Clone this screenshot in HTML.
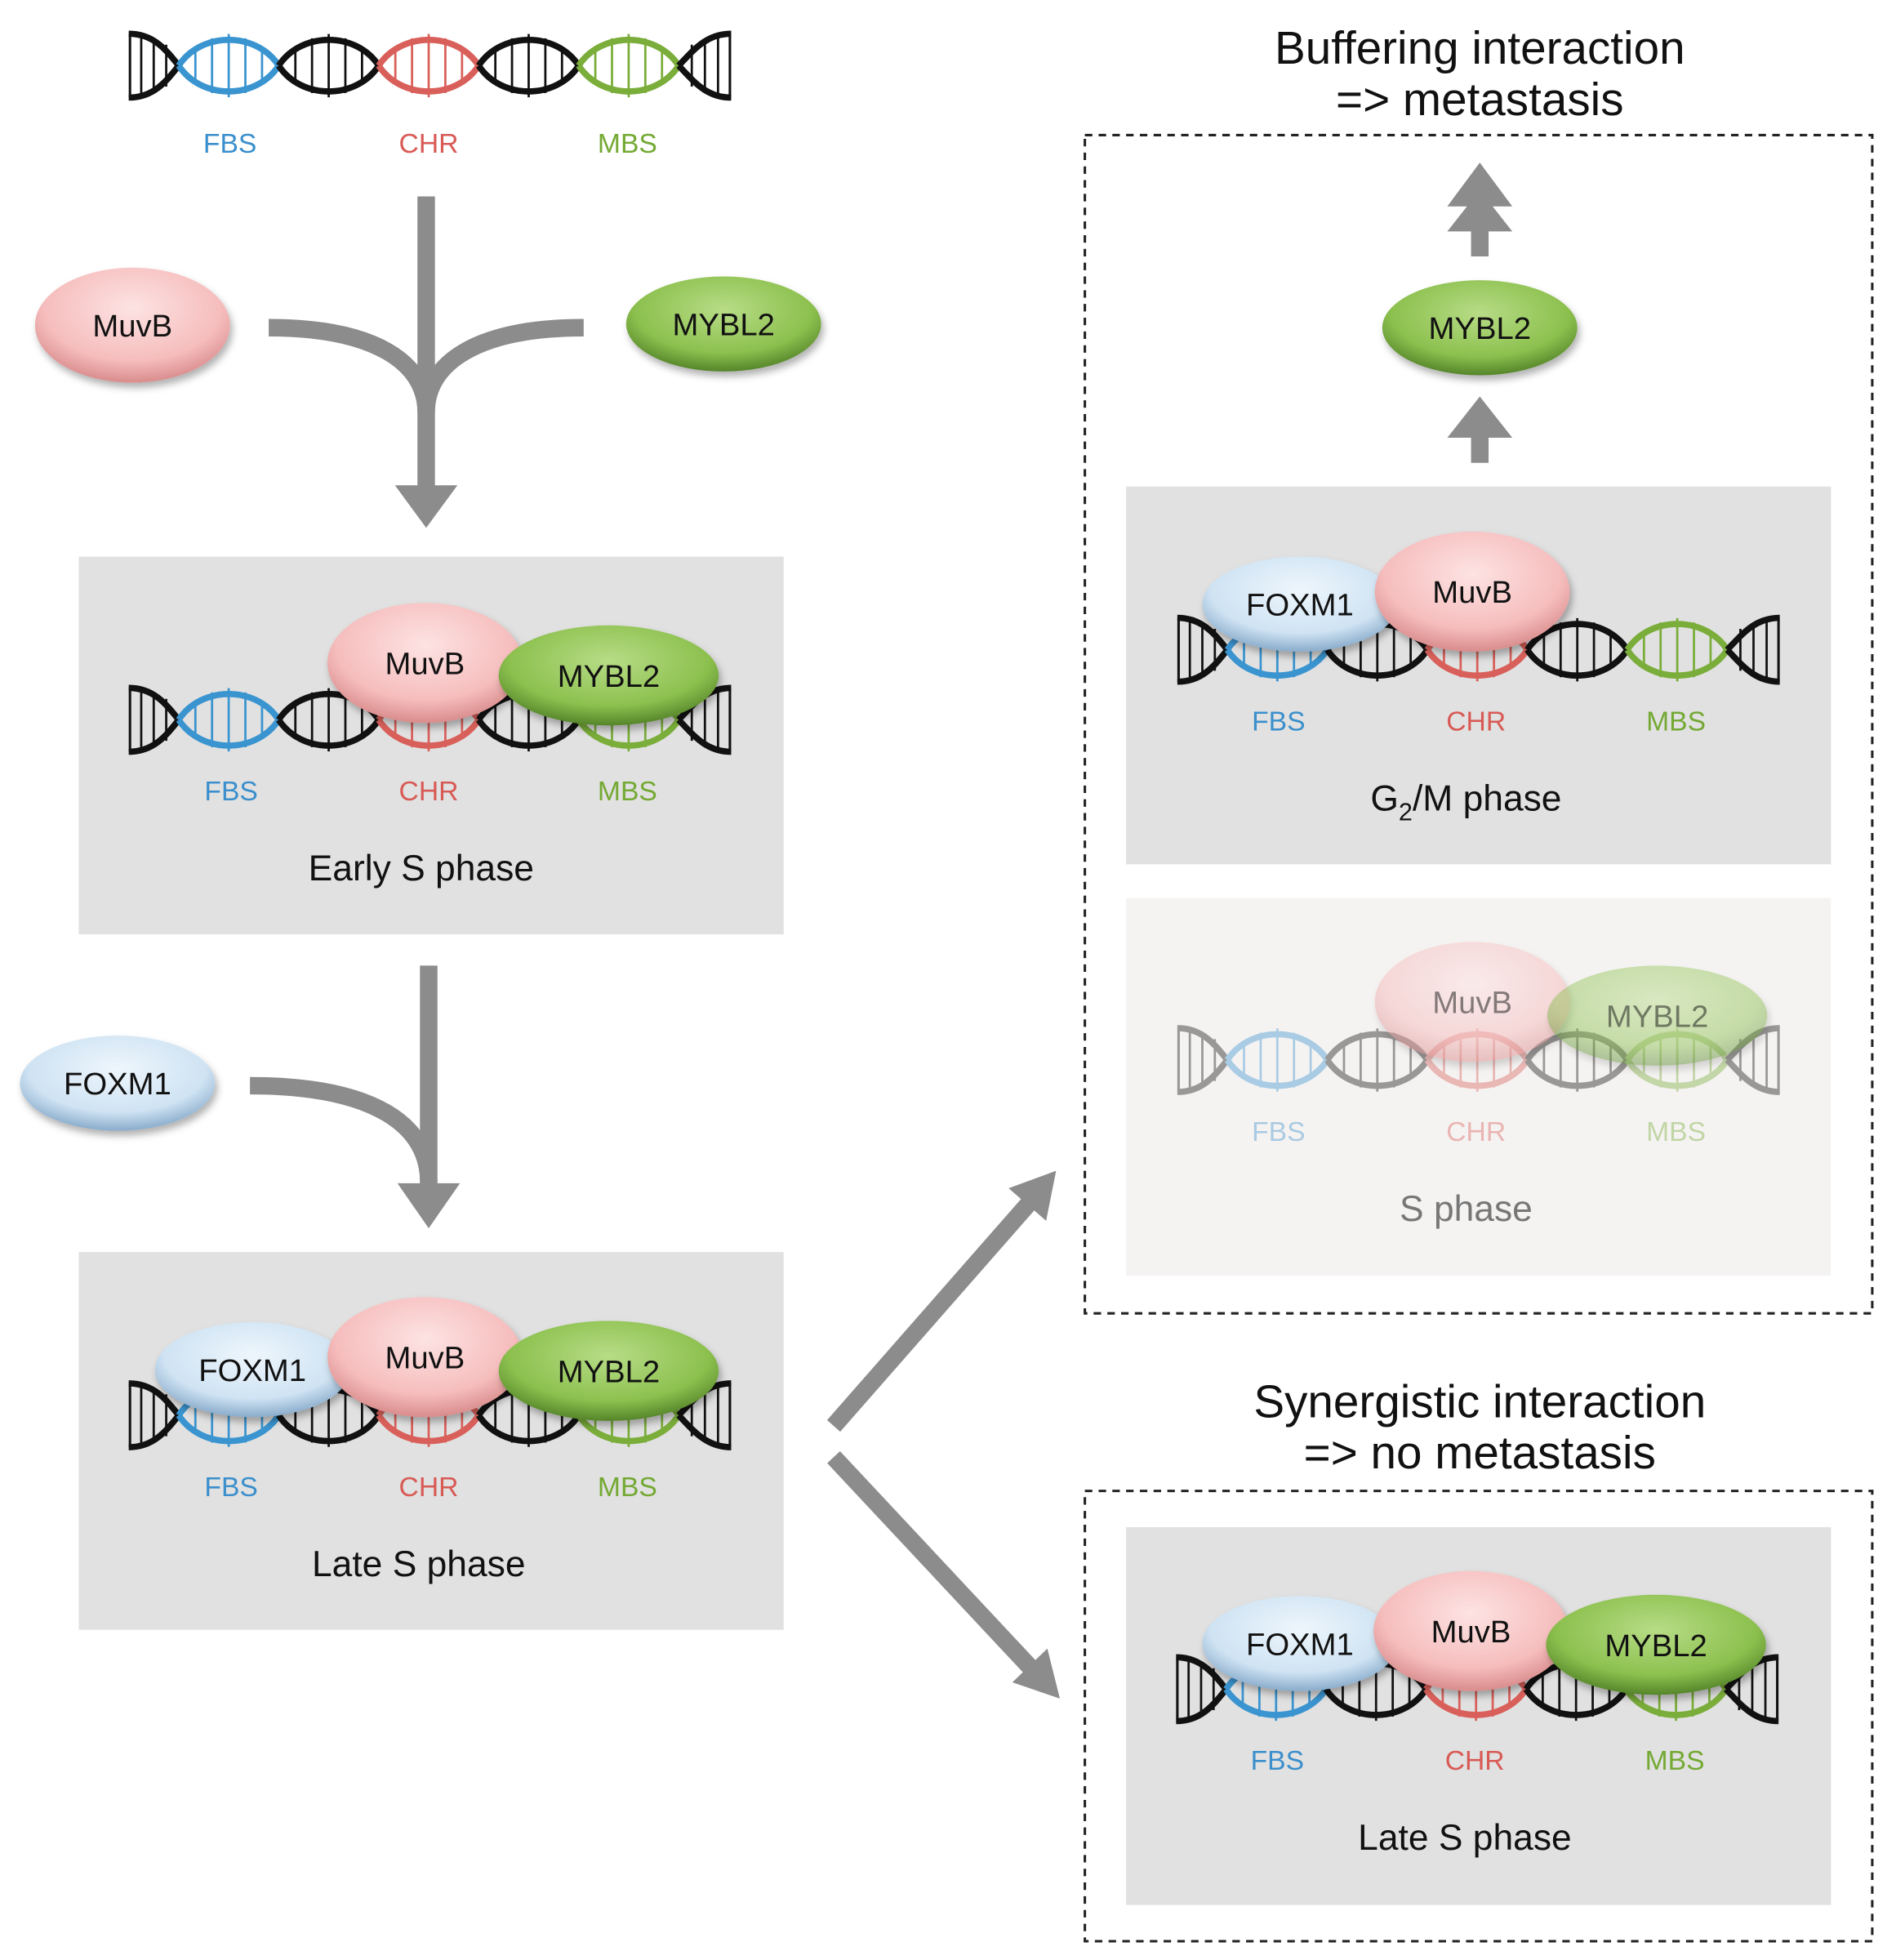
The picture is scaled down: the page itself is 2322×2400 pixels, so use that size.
<!DOCTYPE html>
<html><head><meta charset="utf-8"><style>html,body{margin:0;padding:0;background:#fff}svg{display:block}</style></head>
<body>
<svg id="s" width="2322" height="2400" viewBox="0 0 1517 1567" preserveAspectRatio="none" xmlns="http://www.w3.org/2000/svg" font-family="Liberation Sans, Arial, sans-serif">
<defs>
<radialGradient id="gp" cx="50%" cy="35%" r="65%"><stop offset="0" stop-color="#fde3e3"/><stop offset="0.7" stop-color="#f6bdbd"/><stop offset="1" stop-color="#d98c8c"/></radialGradient>
<radialGradient id="gg" cx="50%" cy="35%" r="65%"><stop offset="0" stop-color="#b7dc86"/><stop offset="0.7" stop-color="#8cc04e"/><stop offset="1" stop-color="#55852a"/></radialGradient>
<radialGradient id="gb" cx="50%" cy="35%" r="65%"><stop offset="0" stop-color="#eef6fc"/><stop offset="0.7" stop-color="#cfe3f3"/><stop offset="1" stop-color="#8aaccb"/></radialGradient>
<filter id="sh" x="-20%" y="-20%" width="150%" height="160%"><feDropShadow dx="2" dy="4" stdDeviation="3" flood-color="#000" flood-opacity="0.3"/></filter>
</defs>
<rect x="63" y="445" width="564" height="302" fill="#e1e1e1"/>
<rect x="63" y="1001" width="564" height="302" fill="#e1e1e1"/>
<rect x="868" y="108" width="630" height="942" fill="none" stroke="#222" stroke-width="2" stroke-dasharray="6,5"/>
<rect x="901" y="389" width="564" height="302" fill="#e1e1e1"/>
<rect x="901" y="718" width="564" height="302" fill="#f5f3f2"/>
<rect x="868" y="1192" width="630" height="360" fill="none" stroke="#222" stroke-width="2" stroke-dasharray="6,5"/>
<rect x="901" y="1221" width="564" height="302" fill="#e1e1e1"/>
<g id="dna"></g>
<g stroke="#8c8c8c" stroke-width="14" fill="none">
<path d="M341 157 V392"/>
<path d="M215 262 C300 262 341 290 341 330"/>
<path d="M467 262 C382 262 341 290 341 330"/>
<path d="M343 772 V950"/>
<path d="M200 868 C300 868 343 900 343 945"/>
<path d="M667 1140 L825 960"/>
<path d="M667 1165 L828 1337"/>
<path d="M1184 370 V345"/>
<path d="M1184 205 V175"/>
</g>
<g fill="#8c8c8c">
<polygon points="316,388 366,388 341,422"/>
<polygon points="318,946 368,946 343,982"/>
<polygon points="845,936 807,950 837,976"/>
<polygon points="848,1358 838,1318 810,1345"/>
<polygon points="1158,350 1210,350 1184,317"/>
<polygon points="1158,185 1210,185 1184,152"/>
<polygon points="1158,165 1210,165 1184,130"/>
</g>
<g id="ell"></g>
<g font-size="22" text-anchor="middle">
<text x="184" y="122" fill="#3a8fcc">FBS</text><text x="343" y="122" fill="#d85a55">CHR</text><text x="502" y="122" fill="#74a934">MBS</text>
<text x="185" y="640" fill="#3a8fcc">FBS</text><text x="343" y="640" fill="#d85a55">CHR</text><text x="502" y="640" fill="#74a934">MBS</text>
<text x="185" y="1196" fill="#3a8fcc">FBS</text><text x="343" y="1196" fill="#d85a55">CHR</text><text x="502" y="1196" fill="#74a934">MBS</text>
<text x="1023" y="584" fill="#3a8fcc">FBS</text><text x="1181" y="584" fill="#d85a55">CHR</text><text x="1341" y="584" fill="#74a934">MBS</text>
<g opacity="0.4"><text x="1023" y="912" fill="#3a8fcc">FBS</text><text x="1181" y="912" fill="#d85a55">CHR</text><text x="1341" y="912" fill="#74a934">MBS</text></g>
<text x="1022" y="1415" fill="#3a8fcc">FBS</text><text x="1180" y="1415" fill="#d85a55">CHR</text><text x="1340" y="1415" fill="#74a934">MBS</text>
</g>
<g font-size="29" text-anchor="middle" fill="#111">
<text x="337" y="704">Early S phase</text>
<text x="335" y="1260">Late S phase</text>
<text x="1173" y="648">G<tspan font-size="20" dy="8">2</tspan><tspan dy="-8">/M phase</tspan></text>
<text x="1173" y="976" fill="#777">S phase</text>
<text x="1172" y="1479">Late S phase</text>
</g>
<g font-size="37" text-anchor="middle" fill="#111">
<text x="1184" y="51">Buffering interaction</text>
<text x="1184" y="92">=&gt; metastasis</text>
<text x="1184" y="1133">Synergistic interaction</text>
<text x="1184" y="1174">=&gt; no metastasis</text>
</g>
<g id="lbl" font-size="25" text-anchor="middle" fill="#111"></g>
</svg>
<script>
var NS="http://www.w3.org/2000/svg";
function el(p,t,a){var e=document.createElementNS(NS,t);for(var k in a)e.setAttribute(k,a[k]);p.appendChild(e);return e;}
var dg=document.getElementById('dna');
function dna(x,y,op){
 var g=el(dg,'g',{transform:'translate('+x+','+y+')',opacity:op||1});
 var h=55,cols=['#111','#3a94d0','#111','#d9605a','#111','#7aad3a','#111'];
 var cs=[0,40,120,200,280,360,440,482];
 for(var i=0;i<7;i++){
  var a=cs[i],b=cs[i+1],c=cols[i];
  var n=(b-a)>60?5:3;
  for(var j=1;j<=n;j++){var rx=a+(b-a)*j/(n+1);
   var t=(rx-a)/(b-a);var amp;
   if(i==0) amp=(h/2)*(1-t*t*0.6); else if(i==6) amp=(h/2)*(1-(1-t)*(1-t)*0.6); else amp=(h/2)*Math.sin(Math.PI*t);
   el(g,'line',{x1:rx,y1:h/2-amp*0.92,x2:rx,y2:h/2+amp*0.92,stroke:c,'stroke-width':1.8});}
  var d1,d2;
  if(i==0){d1='M0 2 C20 2 30 15 40 27.5';d2='M0 53 C20 53 30 40 40 27.5';}
  else if(i==6){d1='M440 27.5 C452 15 462 2 482 2';d2='M440 27.5 C452 40 462 53 482 53';}
  else{d1='M'+a+' 27.5 C'+(a+18)+' 0 '+(b-18)+' 0 '+b+' 27.5';d2='M'+a+' 27.5 C'+(a+18)+' 55 '+(b-18)+' 55 '+b+' 27.5';}
  el(g,'path',{d:d1,stroke:c,'stroke-width':5,fill:'none'});
  el(g,'path',{d:d2,stroke:c,'stroke-width':5,fill:'none'});
 }
 el(g,'line',{x1:1,y1:2,x2:1,y2:53,stroke:'#111','stroke-width':2});
 el(g,'line',{x1:481,y1:2,x2:481,y2:53,stroke:'#111','stroke-width':2});
}
dna(103,25);dna(103,548);dna(103,1104);dna(942,492);dna(942,820,0.4);dna(941,1323);
var eg=document.getElementById('ell'),lg=document.getElementById('lbl');
function E(cx,cy,rx,ry,f,txt,op){var g=el(eg,'g',{opacity:op||1});
 el(g,'ellipse',{cx:cx,cy:cy,rx:rx,ry:ry,fill:'url(#'+f+')',filter:'url(#sh)'});
 var t=el(lg,'text',{x:cx,y:cy+9,opacity:op?0.5:1});t.textContent=txt;}
E(106,260,78,46,'gp','MuvB');E(579,259,78,38,'gg','MYBL2');E(94,866,78,38,'gb','FOXM1');
E(340,530,78,48,'gp','MuvB');E(487,540,88,40,'gg','MYBL2');
E(202,1095,78,38,'gb','FOXM1');E(340,1085,78,48,'gp','MuvB');E(487,1096,88,40,'gg','MYBL2');
E(1184,262,78,38,'gg','MYBL2');
E(1040,483,78,38,'gb','FOXM1');E(1178,473,78,48,'gp','MuvB');
E(1178,801,78,48,'gp','MuvB',0.5);E(1326,812,88,40,'gg','MYBL2',0.45);
E(1040,1314,78,38,'gb','FOXM1');E(1177,1304,78,48,'gp','MuvB');E(1325,1315,88,40,'gg','MYBL2');
</script>
</body></html>
